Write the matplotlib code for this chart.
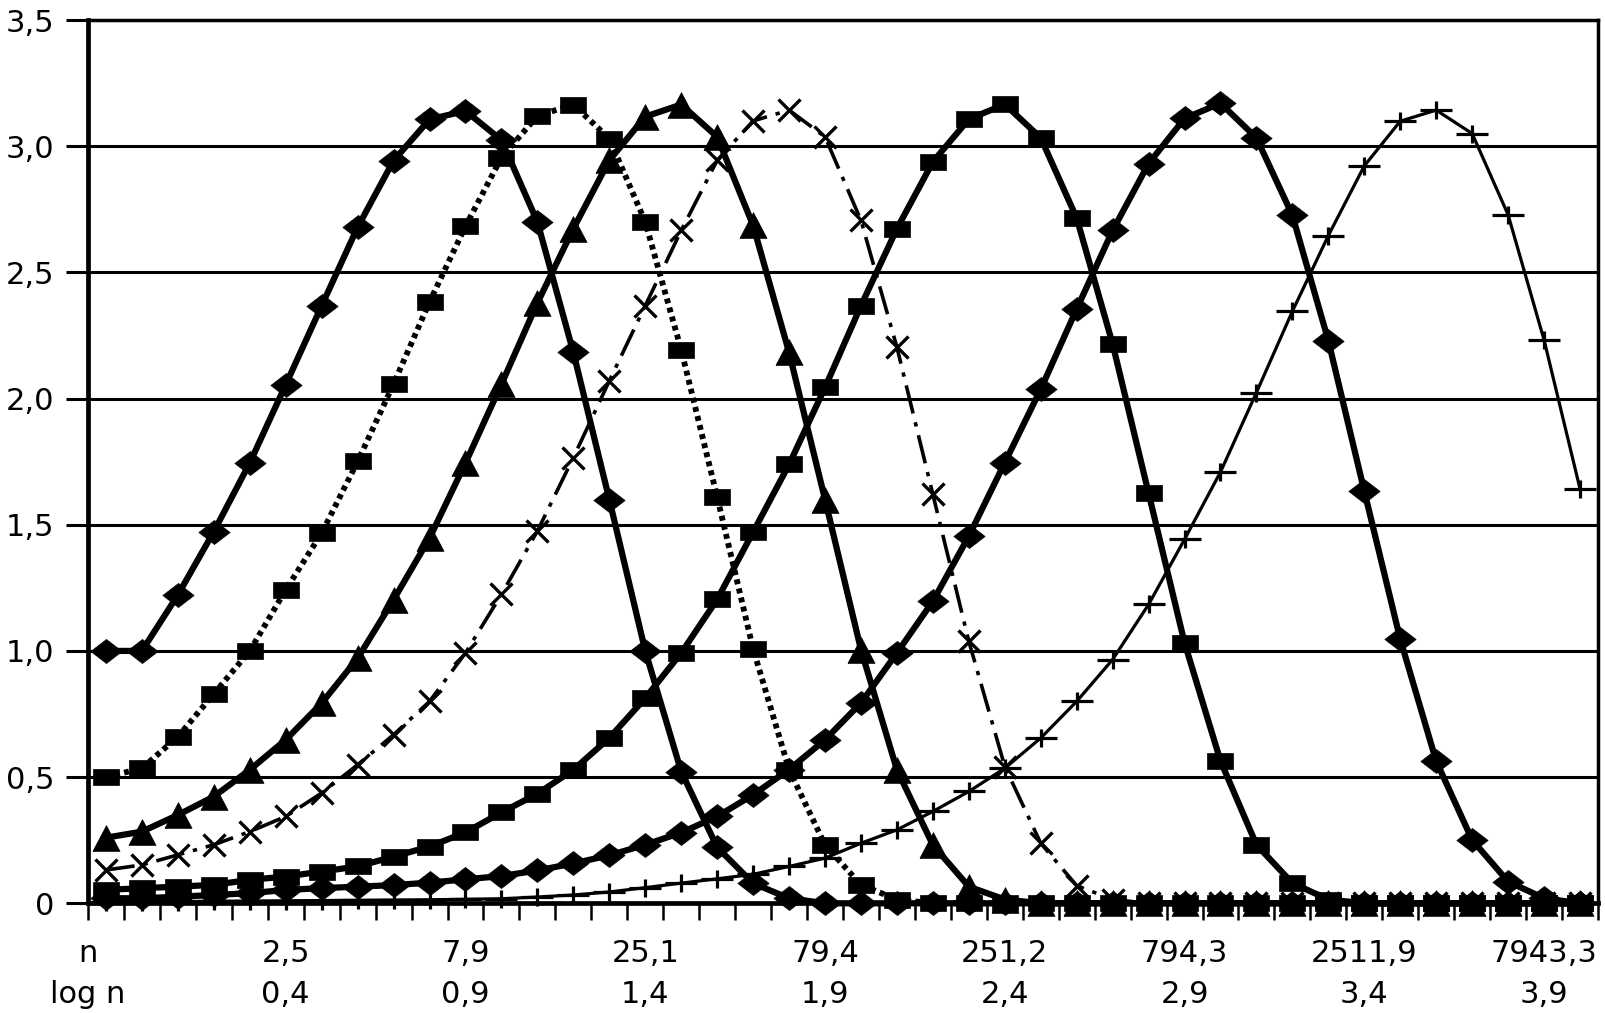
import matplotlib
matplotlib.use("Agg")
import matplotlib.pyplot as plt
from matplotlib.path import Path
import numpy as np

# categories: 42 points on the x axis, labels every 5th one
categories = list(range(42))
label_cats = [0, 5, 10, 15, 20, 25, 30, 35, 40]
n_labels = ["n", "2,5", "7,9", "25,1", "79,4", "251,2", "794,3", "2511,9", "7943,3"]
logn_labels = ["log n", "0,4", "0,9", "1,4", "1,9", "2,4", "2,9", "3,4", "3,9"]

s1 = [1.0, 1.0, 1.222, 1.473, 1.745, 2.055, 2.368, 2.679, 2.943, 3.106,
      3.14, 3.024, 2.70, 2.183, 1.60, 1.0, 0.522, 0.222, 0.079, 0.02,
      0, 0, 0, 0, 0, 0, 0, 0, 0, 0,
      0, 0, 0, 0, 0, 0, 0, 0, 0, 0, 0, 0]
s2 = [0.5, 0.535, 0.66, 0.83, 1.0, 1.242, 1.467, 1.751, 2.058, 2.383,
      2.683, 2.955, 3.12, 3.165, 3.03, 2.70, 2.193, 1.61, 1.008, 0.53,
      0.231, 0.073, 0.015, 0, 0, 0, 0, 0, 0, 0,
      0, 0, 0, 0, 0, 0, 0, 0, 0, 0, 0, 0]
s3 = [0.26, 0.284, 0.35, 0.423, 0.529, 0.648, 0.793, 0.971, 1.203, 1.447,
      1.745, 2.057, 2.379, 2.673, 2.944, 3.117, 3.165, 3.037, 2.686, 2.183,
      1.6, 1.005, 0.529, 0.231, 0.066, 0.015, 0, 0, 0, 0,
      0, 0, 0, 0, 0, 0, 0, 0, 0, 0, 0, 0]
s4 = [0.132, 0.152, 0.192, 0.232, 0.284, 0.344, 0.437, 0.549, 0.668, 0.8,
      0.992, 1.224, 1.475, 1.766, 2.07, 2.368, 2.666, 2.944, 3.10, 3.143,
      3.037, 2.706, 2.203, 1.62, 1.038, 0.542, 0.238, 0.07, 0.015, 0,
      0, 0, 0, 0, 0, 0, 0, 0, 0, 0, 0, 0]
s5 = [0.053, 0.06, 0.066, 0.073, 0.093, 0.106, 0.126, 0.146, 0.185, 0.225,
      0.281, 0.36, 0.434, 0.529, 0.655, 0.813, 0.992, 1.204, 1.471, 1.739,
      2.044, 2.368, 2.673, 2.938, 3.107, 3.166, 3.033, 2.715, 2.216, 1.625,
      1.032, 0.564, 0.232, 0.08, 0.015, 0, 0, 0, 0, 0, 0, 0]
s6 = [0.02, 0.02, 0.026, 0.033, 0.04, 0.053, 0.06, 0.066, 0.072, 0.082,
      0.095, 0.108, 0.13, 0.158, 0.19, 0.232, 0.28, 0.344, 0.43, 0.53,
      0.648, 0.794, 0.992, 1.197, 1.455, 1.746, 2.037, 2.355, 2.666, 2.931,
      3.11, 3.17, 3.033, 2.726, 2.229, 1.633, 1.046, 0.563, 0.251, 0.086,
      0.02, 0]
s7 = [0.005, 0.006, 0.007, 0.008, 0.009, 0.01, 0.011, 0.012, 0.013, 0.014,
      0.016, 0.018, 0.025, 0.033, 0.045, 0.062, 0.08, 0.097, 0.115, 0.146,
      0.179, 0.238, 0.291, 0.364, 0.443, 0.535, 0.655, 0.80, 0.966, 1.184,
      1.442, 1.709, 2.024, 2.346, 2.646, 2.922, 3.099, 3.143, 3.05, 2.728,
      2.232, 1.642]

# stretched marker shapes (the chart is wider than tall)
diamond = [(0, 0.77), (1, 0), (0, -0.77), (-1, 0), (0, 0.77)]
rect = [(-1, -0.64), (1, -0.64), (1, 0.64), (-1, 0.64), (-1, -0.64)]
tri = [(-1, -0.95), (1, -0.95), (0, 0.95), (-1, -0.95)]
plus = Path([(-1, 0), (1, 0), (0, -0.56), (0, 0.56)],
            [Path.MOVETO, Path.LINETO, Path.MOVETO, Path.LINETO])

W, H = 1606, 1013
fig = plt.figure(figsize=(W / 100, H / 100), dpi=100)
ax = fig.add_axes([88 / W, 1 - 903.3 / H, (1598 - 88) / W, (903.3 - 20) / H])

common = dict(color="black", clip_on=False)
ax.plot(categories, s1, ls="-", lw=4.5, marker=diamond, ms=22.5, mfc="black", mew=0.5, **common)
ax.plot(categories, s2, ls=(0, (0.85, 0.75)), lw=4.2, marker=rect, ms=19, mfc="black", mew=0.5, **common)
ax.plot(categories, s3, ls="-", lw=4.5, marker=tri, ms=19.5, mfc="black", mew=0.5, **common)
ax.plot(categories, s4, ls=(0, (8, 2.5, 1.2, 2.5)), lw=2.6, marker="x", ms=16, mew=2.4, **common)
ax.plot(categories, s5, ls="-", lw=4.5, marker=rect, ms=19, mfc="black", mew=0.5, **common)
ax.plot(categories, s6, ls="-", lw=4.5, marker=diamond, ms=22.5, mfc="black", mew=0.5, **common)
ax.plot(categories, s7, ls="-", lw=2.3, marker=plus, ms=23, mfc="none", mew=2.3, **common)

ax.set_xlim(-0.5, 41.5)
ax.set_ylim(0, 3.5)

yt = [0, 0.5, 1.0, 1.5, 2.0, 2.5, 3.0, 3.5]
ax.set_yticks(yt)
ax.set_yticklabels(["0" if v == 0 else ("%.1f" % v).replace(".", ",") for v in yt])
ax.yaxis.grid(True, color="black", lw=2.2)
ax.set_axisbelow(True)
ax.tick_params(axis="y", direction="out", length=16, width=2.2, pad=8, labelsize=22)

ax.set_xticks(np.arange(-0.5, 42, 1))
ax.set_xticklabels([])
ax.tick_params(axis="x", direction="out", length=12, width=1.8)

for side in ["left", "bottom"]:
    ax.spines[side].set_linewidth(3.4)
for side in ["top", "right"]:
    ax.spines[side].set_linewidth(2.5)

tr = ax.get_xaxis_transform()
for c, a, b in zip(label_cats, n_labels, logn_labels):
    xpos = -0.5 if c == 0 else c
    ax.text(xpos, -0.0665, a, transform=tr, ha="center", va="baseline", fontsize=22)
    ax.text(xpos, -0.1129, b, transform=tr, ha="center", va="baseline", fontsize=22)

fig.savefig("out.png", dpi=100)
